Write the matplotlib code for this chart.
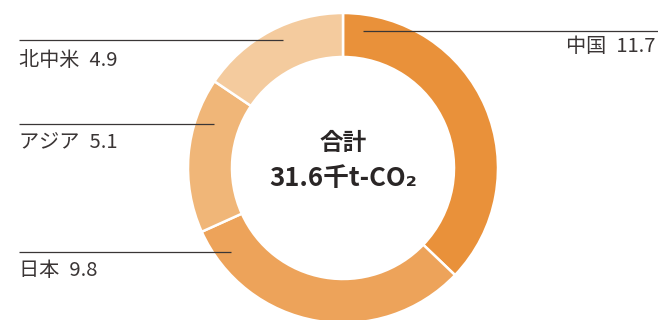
import matplotlib
matplotlib.use("Agg")
import matplotlib.pyplot as plt

plt.rcParams['font.family'] = ['Noto Sans CJK JP', 'DejaVu Sans']

# Emissions by region (thousand t-CO2)
regions = ["中国", "日本", "アジア", "北中米"]
values = [11.7, 9.8, 5.1, 4.9]
colors = ["#E9913A", "#EDA35A", "#F0B678", "#F4CB9E"]
total_label = "31.6千t-CO₂"

W, H = 658, 320
fig = plt.figure(figsize=(W / 100, H / 100), dpi=100)
ax = fig.add_axes([0, 0, 1, 1])

cx, cy, R, ring = 343, H - 168, 155, 44
ax.pie(values, colors=colors, startangle=90, counterclock=False,
       center=(cx, cy), radius=R, frame=True,
       wedgeprops=dict(width=ring, edgecolor="white", linewidth=1.8))
ax.set_xlim(0, W)
ax.set_ylim(0, H)
ax.set_aspect("equal")
ax.axis("off")

line_color = "#3a3636"
text_color = "#3a3535"

# leader lines: (label index, x0, x1, y_line, text x, text y, alignment)
leaders = [
    (0, 363, 658, 31, 656, 47, "right"),
    (1, 19, 231, 252, 19, 270, "left"),
    (2, 19, 214, 124, 19, 143, "left"),
    (3, 19, 283, 40, 19, 60, "left"),
]
for i, x0, x1, yl, tx, ty, ha in leaders:
    ax.plot([x0, x1], [H - yl, H - yl], color=line_color, lw=0.9,
            solid_capstyle="butt", zorder=5)
    ax.text(tx, H - ty, f"{regions[i]}\u2002{values[i]}", ha=ha, va="center",
            fontsize=14.5, color=text_color)

ax.text(cx, H - 143, "合計", ha="center", va="center", fontsize=17,
        fontweight="bold", color="#2a2626")
ax.text(cx, H - 179, total_label, ha="center", va="center", fontsize=18.5,
        fontweight="bold", color="#2a2626")

fig.savefig("out.png", dpi=100, facecolor="white")
